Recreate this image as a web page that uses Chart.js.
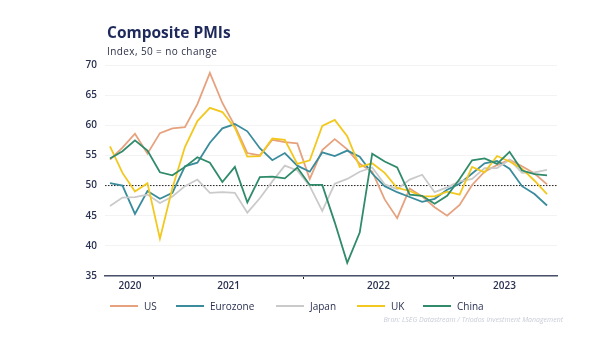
<!DOCTYPE html>
<html>
<head>
<meta charset="utf-8">
<script src="https://cdn.jsdelivr.net/npm/chart.js@4.4.1/dist/chart.umd.min.js"></script>
<style>
  body { margin: 0; background: #fff; font-family: "Open Sans", "DejaVu Sans", sans-serif; }
  .wrap { position: relative; width: 604px; height: 343px; overflow: hidden; }
  canvas { position: absolute; left: 0; top: 0; }
  .title { position: absolute; left: 107px; top: 21px; font-size: 15.5px; font-weight: 700; color: #1f2a5c; }
  .sub { position: absolute; left: 107px; top: 44px; font-size: 10px; letter-spacing: 0.4px; color: #2a2f45; }
  .legend { position: absolute; left: 0; top: 299px; width: 604px; height: 14px; font-size: 10px; color: #2a3050; }
  .legend span { position: absolute; top: 0; white-space: nowrap; }
  .legend i { display: inline-block; width: 28px; height: 2px; vertical-align: middle; margin-right: 6px; position: relative; top: -1px; }
  .source { position: absolute; right: 41px; top: 315px; font-size: 7px; color: #c8ccd6; font-style: italic; }
</style>
</head>
<body>
<div class="wrap">
  <canvas id="pmiChart" width="604" height="343"></canvas>
  <div class="title">Composite PMIs</div>
  <div class="sub">Index, 50 = no change</div>
  <div class="legend" id="legend"></div>
  <div class="source">Bron: LSEG Datastream / Triodos Investment Management</div>
</div>
<script>
// months Sep 2020 .. Aug 2023 (index 0 = Sep 2020)
const months = ['Sep20','Oct20','Nov20','Dec20','Jan21','Feb21','Mar21','Apr21','May21','Jun21','Jul21','Aug21',
  'Sep21','Oct21','Nov21','Dec21','Jan22','Feb22','Mar22','Apr22','May22','Jun22','Jul22','Aug22',
  'Sep22','Oct22','Nov22','Dec22','Jan23','Feb23','Mar23','Apr23','May23','Jun23','Jul23','Aug23']

const us = [54.3, 56.3, 58.6, 55.3, 58.7, 59.5, 59.7, 63.5, 68.7, 63.7, 59.9, 55.4,
  55.0, 57.6, 57.2, 57.0, 51.1, 55.9, 57.7, 56.0, 53.6, 52.3, 47.7, 44.6,
  49.5, 48.2, 46.4, 45.0, 46.8, 50.1, 52.3, 53.4, 54.3, 53.2, 52.0, 50.2]
const eurozone = [50.4, 50.0, 45.3, 49.1, 47.8, 48.8, 53.2, 53.8, 57.1, 59.5, 60.2, 59.0,
  56.2, 54.2, 55.4, 53.3, 52.3, 55.5, 54.9, 55.8, 54.8, 52.0, 49.9, 48.9,
  48.1, 47.3, 47.8, 49.3, 50.3, 52.0, 53.7, 54.1, 52.8, 49.9, 48.6, 46.7]
const japan = [46.6, 48.0, 48.1, 48.5, 47.1, 48.2, 49.9, 51.0, 48.8, 48.9, 48.8, 45.5,
  47.9, 50.7, 53.3, 52.5, 49.9, 45.8, 50.3, 51.1, 52.3, 53.0, 50.2, 49.4,
  51.0, 51.8, 48.9, 49.7, 50.7, 51.1, 52.9, 52.9, 54.3, 52.1, 52.2, 52.6]
const uk = [56.5, 52.1, 49.0, 50.4, 41.2, 49.6, 56.4, 60.7, 62.9, 62.2, 59.6, 54.8,
  54.9, 57.8, 57.6, 53.6, 54.2, 59.9, 60.9, 58.2, 53.1, 53.7, 52.1, 49.6,
  49.1, 48.2, 48.2, 49.0, 48.5, 53.1, 52.2, 54.9, 54.0, 52.8, 50.8, 48.6]
const china = [54.5, 55.7, 57.5, 55.8, 52.2, 51.7, 53.1, 54.7, 53.8, 50.6, 53.1, 47.2,
  51.4, 51.5, 51.2, 53.0, 50.1, 50.1, 43.9, 37.2, 42.2, 55.3, 54.0, 53.0,
  48.5, 48.3, 47.0, 48.3, 51.1, 54.2, 54.5, 53.6, 55.6, 52.5, 51.9, 51.7]

const seriesNames = ['US', 'Eurozone', 'Japan', 'UK', 'China']
const seriesData = [us, eurozone, japan, uk, china]
const seriesColors = ['#e6a27e', '#3a8c9d', '#cacaca', '#f3c81e', '#2f8b69']

const yTicks = [35, 40, 45, 50, 55, 60, 65, 70]
const yearLabels = ['2020', '2021', '2022', '2023']
const yearLabelPos = [1.6, 9.5, 21.5, 31.6]
const yearBoundaries = [3.5, 15.5, 27.5]
const xMin = -0.4, xMax = 35.8

const toPoints = arr => arr.map((v, i) => ({ x: i, y: v }))

const datasets = seriesNames.map((name, k) => ({
    label: name,
    data: toPoints(seriesData[k]),
    borderColor: seriesColors[k],
    borderWidth: 1.8,
    pointRadius: 0,
    tension: 0,
    order: 5 - k
}))
// reference line at 50
datasets.push({
    label: 'ref',
    data: [{ x: xMin, y: 50 }, { x: xMax, y: 50 }],
    borderColor: '#222',
    borderWidth: 1,
    borderDash: [1.5, 1.5],
    pointRadius: 0,
    order: 10
})

const xTicks = yearLabelPos.concat(yearBoundaries).sort((a, b) => a - b)

new Chart(document.getElementById('pmiChart'), {
    type: 'line',
    data: { datasets: datasets },
    options: {
        responsive: false,
        animation: false,
        layout: { padding: { left: 0, right: 47, top: 65, bottom: 50 } },
        plugins: { legend: { display: false }, tooltip: { enabled: false } },
        scales: {
            x: {
                type: 'linear',
                min: xMin,
                max: xMax,
                afterBuildTicks: (axis) => { axis.ticks = xTicks.map(v => ({ value: v })) },
                ticks: {
                    autoSkip: false,
                    maxRotation: 0,
                    padding: 1,
                    color: '#2a3050',
                    font: { family: 'Open Sans', size: 10, weight: '600' },
                    callback: (v) => {
                        const i = yearLabelPos.indexOf(v)
                        return i >= 0 ? yearLabels[i] : ''
                    }
                },
                grid: {
                    drawOnChartArea: false,
                    tickLength: 3,
                    color: (ctx) => yearBoundaries.includes(ctx.tick && ctx.tick.value) ? '#222' : 'rgba(0,0,0,0)'
                },
                border: { color: '#4b506a', width: 1.5 }
            },
            y: {
                min: 35,
                max: 70,
                afterBuildTicks: (axis) => { axis.ticks = yTicks.map(v => ({ value: v })) },
                afterFit: (axis) => { axis.width = 105 },
                ticks: {
                    padding: 8,
                    color: '#2a3050',
                    font: { family: 'Open Sans', size: 10, weight: '600' }
                },
                grid: { color: '#f3f3f3', drawTicks: false },
                border: { display: false }
            }
        }
    }
})

// legend
const legendPos = [110, 176, 276, 357, 423]
const legendEl = document.getElementById('legend')
seriesNames.forEach((name, k) => {
    const s = document.createElement('span')
    s.style.left = legendPos[k] + 'px'
    s.innerHTML = '<i style="background:' + seriesColors[k] + '"></i>' + name
    legendEl.appendChild(s)
})
</script>
</body>
</html>
